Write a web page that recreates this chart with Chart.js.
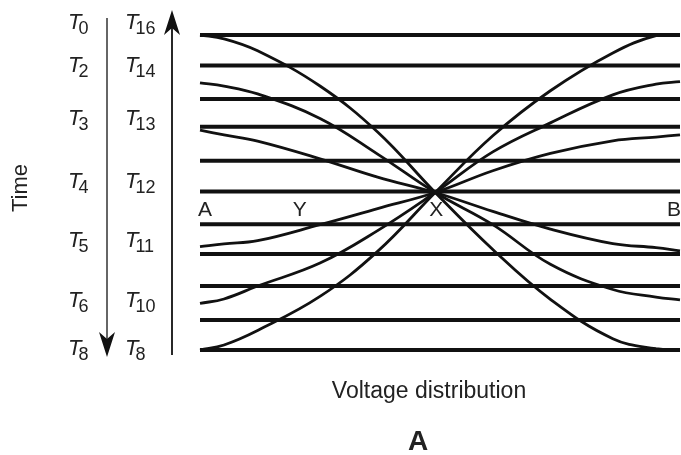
<!DOCTYPE html>
<html>
<head>
<meta charset="utf-8">
<script src="https://cdn.jsdelivr.net/npm/chart.js@4"></script>
<style>
body{margin:0;background:#fff}
#wrap{width:681px;height:455px}
</style>
</head>
<body>
<div id="wrap"><canvas id="myChart" width="681" height="455"></canvas></div>
<script>
// voltage level of each horizontal line (0 = bottom, 100 = top)
const levels = [100, 90.3, 79.7, 70.9, 60.1, 50.3, 39.9, 30.5, 20.3, 9.5, 0];

// positions along the line, 0 = A, 100 = B
const positions = [0, 5, 12, 25, 37, 49, 61, 73, 86, 95, 100];

// distributions falling from A to B
const fall1 = [100, 98.8, 95, 83.8, 69.2, 50, 31.9, 16.1, 3.6, 0.4, 0];
const fall2 = [84.8, 83.8, 81.3, 73.5, 62.2, 50, 39.8, 27.2, 19.2, 16.8, 15.9];
const fall3 = [69.8, 68.3, 66.3, 60.7, 54.9, 50, 44, 38.4, 33.8, 32.5, 31.5];

// distributions rising from A to B
const rise1 = [32.8, 33.7, 34.7, 39.8, 44.9, 50, 56.9, 62.4, 66.4, 67.6, 68.3];
const rise2 = [14.8, 16.2, 20.3, 27.6, 37.9, 50, 62.9, 72.1, 81, 84.4, 85.2];
const rise3 = [0, 1.6, 6.2, 17, 31.3, 50, 68, 82.3, 94.3, 99.8, 100];

// time labels
const timeLeft = ['0', '2', '3', '4', '5', '6', '8'];
const timeRight = ['16', '14', '13', '12', '11', '10', '8'];
const pointNames = ['A', 'Y', 'X', 'B'];

const FONT = '"Liberation Sans", Arial, sans-serif';

const datasets = [];
levels.forEach(function(v){
  datasets.push({
    data: [{x: 0, y: v}, {x: 100, y: v}],
    borderColor: '#111',
    borderWidth: 4,
    pointRadius: 0,
    clip: false
  });
});
[fall1, fall2, fall3, rise1, rise2, rise3].forEach(function(s){
  datasets.push({
    data: positions.map(function(x, i){ return {x: x, y: s[i]}; }),
    borderColor: '#111',
    borderWidth: 2.8,
    pointRadius: 0,
    tension: 0.4,
    clip: false
  });
});

function drawT(ctx, x, b, sub){
  ctx.textAlign = 'left';
  ctx.font = 'italic 22px ' + FONT;
  ctx.fillText('T', x, b);
  const w = ctx.measureText('T').width;
  ctx.font = '18px ' + FONT;
  ctx.fillText(sub, x + w - 3, b + 5);
}

function arrowHead(ctx, x, tip, dir){
  // dir = 1 points down, -1 points up
  ctx.beginPath();
  ctx.moveTo(x, tip);
  ctx.lineTo(x - 8, tip - dir * 25);
  ctx.lineTo(x, tip - dir * 18);
  ctx.lineTo(x + 8, tip - dir * 25);
  ctx.closePath();
  ctx.fill();
}

const annot = {
  id: 'annot',
  afterDraw(chart){
    const {ctx, scales: {x, y}} = chart;
    ctx.save();
    ctx.fillStyle = '#222';
    ctx.textBaseline = 'alphabetic';

    const rows = [29, 72, 125, 188, 247, 307, 355];
    rows.forEach(function(b, i){
      drawT(ctx, 68, b, timeLeft[i]);
      drawT(ctx, 125, b, timeRight[i]);
    });

    // down arrow
    ctx.strokeStyle = '#333';
    ctx.lineWidth = 1.5;
    ctx.beginPath();
    ctx.moveTo(107, 18);
    ctx.lineTo(107, 340);
    ctx.stroke();
    ctx.fillStyle = '#111';
    arrowHead(ctx, 107, 357, 1);

    // up arrow
    ctx.strokeStyle = '#111';
    ctx.lineWidth = 1.8;
    ctx.beginPath();
    ctx.moveTo(172, 355);
    ctx.lineTo(172, 26);
    ctx.stroke();
    arrowHead(ctx, 172, 10, -1);

    // A Y X B
    ctx.fillStyle = '#222';
    ctx.font = '21px ' + FONT;
    const by = 216;
    ctx.textAlign = 'left';
    ctx.fillText(pointNames[0], x.getPixelForValue(0) - 2, by);
    ctx.textAlign = 'center';
    ctx.fillText(pointNames[1], x.getPixelForValue(20.8), by);
    ctx.fillText(pointNames[2], x.getPixelForValue(49.2), by);
    ctx.textAlign = 'right';
    ctx.fillText(pointNames[3], x.getPixelForValue(100) + 1, by);

    // axis titles
    ctx.textAlign = 'center';
    ctx.font = '23px ' + FONT;
    ctx.fillText('Voltage distribution', 429, 398);
    ctx.font = 'bold 28px ' + FONT;
    ctx.fillText('A', 418, 450);

    ctx.save();
    ctx.translate(27, 188);
    ctx.rotate(-Math.PI / 2);
    ctx.font = '22px ' + FONT;
    ctx.fillText('Time', 0, 0);
    ctx.restore();

    ctx.restore();
  }
};

const config = {
  type: 'line',
  data: {datasets: datasets},
  options: {
    responsive: false,
    animation: false,
    layout: {padding: {left: 200, top: 35, right: 1, bottom: 105}},
    plugins: {legend: {display: false}, tooltip: {enabled: false}},
    scales: {
      x: {type: 'linear', min: 0, max: 100, display: false},
      y: {min: 0, max: 100, display: false}
    }
  },
  plugins: [annot]
};

const myChart = new Chart(document.getElementById('myChart'), config);
</script>
</body>
</html>
